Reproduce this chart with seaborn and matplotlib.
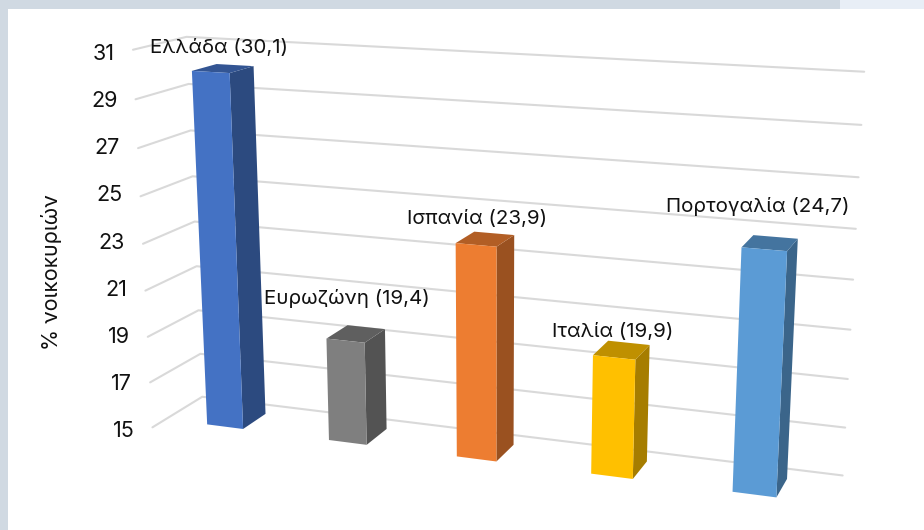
#!/usr/bin/env python3
# -*- coding: utf-8 -*-

import numpy as np
import pandas as pd
import matplotlib
matplotlib.use("Agg")
import matplotlib.pyplot as plt
import matplotlib.transforms as mtrans
from matplotlib.patches import Polygon, Rectangle
from matplotlib.lines import Line2D
import seaborn as sns

# data
countries = ['Ελλάδα', 'Ευρωζώνη', 'Ισπανία', 'Ιταλία', 'Πορτογαλία']
values = [30.1, 19.4, 23.9, 19.9, 24.7]
value_labels = ['30,1', '19,4', '23,9', '19,9', '24,7']
y_ticks = [15, 17, 19, 21, 23, 25, 27, 29, 31]
y_label = '% νοικοκυριών'

front_colors = ['#4472C4', '#7F7F7F', '#ED7D31', '#FFC000', '#5B9BD5']
side_colors = ['#2C4A7F', '#535353', '#9A5120', '#A67D00', '#3B658A']
top_colors = ['#335593', '#5F5F5F', '#B25E25', '#BF9000', '#44749F']

W, H = 924, 530
BASE = 15
BAR_W = 0.3
Z_FRONT, Z_BACK = 0.26, 0.74

# camera anchors: (category x, value, depth) -> picture pixel
anchors = [
    ((-0.5, 15, 0), (151, 428)),
    ((-0.5, 31, 0), (132, 51)),
    ((-0.5, 15, 1), (204, 396)),
    ((-0.5, 31, 1), (187, 36)),
    ((4.5, 15, 1), (843, 475)),
    ((4.5, 31, 1), (864, 71)),
    ((-0.15, 15, Z_FRONT), (208, 423)),
    ((2.15, 15, Z_FRONT), (498, 460)),
    ((4.15, 15, Z_FRONT), (777, 496)),
    ((4.15, 15, Z_BACK), (786, 480)),
    ((0.15, 15, Z_BACK), (264, 414)),
    ((1.15, 15, Z_BACK), (386, 430)),
    ((2.15, 15, Z_BACK), (513, 447)),
    ((0.15, 30.1, Z_BACK), (252, 67)),
    ((0.15, 30.1, Z_FRONT), (232, 72)),
    ((4.15, 24.7, Z_FRONT), (787, 252)),
]


def fit_camera(points):
    rows = []
    for (x, v, z), (px, py) in points:
        p = [x, (v - BASE) / 16, z, 1]
        u, w = px / 1000, py / 1000
        rows.append(p + [0, 0, 0, 0] + [-u * c for c in p])
        rows.append([0, 0, 0, 0] + p + [-w * c for c in p])
    _, _, vt = np.linalg.svd(np.array(rows))
    return vt[-1].reshape(3, 4)


CAM = fit_camera(anchors)


def project(x, v, z):
    # returns display coordinates (y up)
    x, v, z = np.broadcast_arrays(x, v, z)
    p = np.stack([x, (v - BASE) / 16, z, np.ones_like(x, dtype=float)], axis=-1)
    q = p @ CAM.T
    px = q[..., 0] / q[..., 2] * 1000
    py = q[..., 1] / q[..., 2] * 1000
    return np.stack([px, H - py], axis=-1)


class PlaneTransform(mtrans.Transform):
    # maps (x, value) data on a plane of constant depth to the picture
    input_dims = 2
    output_dims = 2
    is_separable = False
    has_inverse = False

    def __init__(self, plane_z):
        super().__init__()
        self.plane_z = plane_z

    def transform_non_affine(self, values):
        values = np.asarray(values, dtype=float)
        return project(values[:, 0], values[:, 1], self.plane_z)


px_trans = mtrans.IdentityTransform()

sns.set_theme(style='white')
plt.rcParams['font.family'] = ['Inter', 'DejaVu Sans']
plt.rcParams['text.color'] = '#111111'
plt.rcParams['axes.labelcolor'] = '#111111'

fig = plt.figure(figsize=(W / 100, H / 100), dpi=100, facecolor='white')

# page frame
fig.patches.append(Rectangle((0, 0), 8 / W, 1, transform=fig.transFigure, color='#D0D9E2', lw=0))
fig.patches.append(Rectangle((0, 1 - 9 / H), 840 / W, 9 / H, transform=fig.transFigure, color='#D0D9E2', lw=0))
fig.patches.append(Rectangle((840 / W, 1 - 9 / H), 84 / W, 9 / H, transform=fig.transFigure, color='#E8EEF6', lw=0))

AX_LEFT = 140
ax = fig.add_axes([AX_LEFT / W, (H - 428) / H, 700 / W, (428 - 51) / H])
ax.patch.set_visible(False)

df = pd.DataFrame({'country': countries, 'value': values})
sns.barplot(data=df, x='country', y='value', hue='country', palette=front_colors,
            width=BAR_W, dodge=False, saturation=1, linewidth=0, legend=False, ax=ax)

ax.set_xlim(-0.5, 4.5)
ax.set_ylim(15, 31)
ax.set_xticks([])
ax.set_xlabel('')
ax.set_yticks(y_ticks)
ax.tick_params(axis='y', length=0, labelsize=15.5, colors='#111111')
sns.despine(ax=ax, left=True, bottom=True)

# tick labels follow the slanted left edge of the chart
for tick, v in zip(ax.yaxis.get_major_ticks(), y_ticks):
    end_x = project(-0.5, v, 0)[0]
    tick.label1.set_transform(ax.get_yaxis_transform()
                              + mtrans.Affine2D().translate(end_x - 18 - AX_LEFT, -1))

ax.set_ylabel(y_label, fontsize=15.5)
ax.yaxis.set_label_coords(62, H - 272, transform=px_trans)

# gridlines on side wall and back wall
for v in y_ticks:
    pts = project([-0.5, -0.5, 4.5], v, [0, 1, 1])
    ax.add_line(Line2D(pts[:, 0], pts[:, 1], transform=px_trans, color='#D9D9D9',
                       lw=1.5, zorder=1, clip_on=False))

# bars: the seaborn rectangles become the front faces
bars = sorted(ax.patches, key=lambda p: p.get_x())
front_trans = PlaneTransform(Z_FRONT)
for i, bar in enumerate(bars):
    x0 = bar.get_x()
    x1 = x0 + bar.get_width()
    val = bar.get_height()
    bar.set_y(BASE)
    bar.set_height(val - BASE)
    bar.set_transform(front_trans)
    bar.set_clip_on(False)
    bar.set_zorder(4)

    side = project([x1, x1, x1, x1], [BASE, val, val, BASE], [Z_FRONT, Z_FRONT, Z_BACK, Z_BACK])
    top = project([x0, x1, x1, x0], val, [Z_FRONT, Z_FRONT, Z_BACK, Z_BACK])
    ax.add_patch(Polygon(side, closed=True, transform=px_trans, facecolor=side_colors[i],
                         lw=0, zorder=3, clip_on=False))
    ax.add_patch(Polygon(top, closed=True, transform=px_trans, facecolor=top_colors[i],
                         lw=0, zorder=3, clip_on=False))

# data labels, placed by hand above each bar
label_xy = [(219, 48), (347, 299), (477, 219), (613, 332), (758, 206)]
for name, txt, (lx, ly) in zip(countries, value_labels, label_xy):
    ax.text(lx, H - ly, f'{name} ({txt})', transform=px_trans, ha='center', va='center',
            fontsize=14.8, color='#111111', zorder=6, clip_on=False)

fig.savefig('out.png', dpi=100)
